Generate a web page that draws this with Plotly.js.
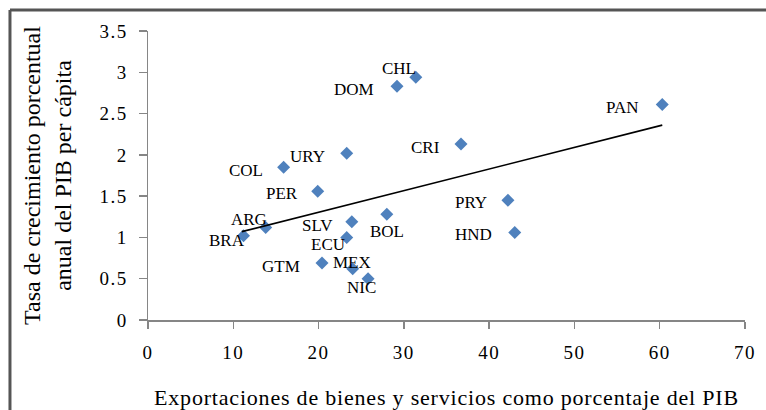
<!DOCTYPE html>
<html>
<head>
<meta charset="utf-8">
<script src="https://cdn.plot.ly/plotly-3.0.1.min.js"></script>
<style>
  html, body { margin: 0; padding: 0; background: #ffffff; }
  #chart { width: 766px; height: 410px; }
  #chart .xtick text, #chart .ytick text { letter-spacing: 1.5px; }
  #chart .g-xtitle text { letter-spacing: 0.8px; }
</style>
</head>
<body>
<div id="chart"></div>
<script>
// ---- Data ----
var countries = ["CHL", "DOM", "PAN", "CRI", "PRY", "HND", "URY", "COL", "PER",
                 "ARG", "BRA", "SLV", "BOL", "ECU", "GTM", "MEX", "NIC"];
var exportsPct = [31.4, 29.2, 60.3, 36.7, 42.2, 43.0, 23.3, 15.9, 19.9,
                  13.8, 11.2, 23.9, 28.0, 23.3, 20.4, 24.0, 25.8];
var growthPct  = [2.94, 2.83, 2.61, 2.13, 1.45, 1.06, 2.02, 1.85, 1.56,
                  1.12, 1.02, 1.19, 1.28, 1.00, 0.69, 0.62, 0.50];
var trendX = [11.0, 60.3];
var trendY = [1.07, 2.36];
var xTicks = [0, 10, 20, 30, 40, 50, 60, 70];
var yTicks = [0, 0.5, 1, 1.5, 2, 2.5, 3, 3.5];

// ---- Label placement (pixel shifts, style only) ----
var labelShift = {
  CHL: [-17, 9], DOM: [-43, -3], PAN: [-40, -3], CRI: [-36, -3], PRY: [-37, -2],
  HND: [-41, -2], URY: [-39, -3], COL: [-38, -3], PER: [-36, -2], ARG: [-17, 8],
  BRA: [-17, -5], SLV: [-34, -4], BOL: [0, -17], ECU: [-19, -7], GTM: [-41, -3],
  MEX: [-1, 6], NIC: [-7, -9]
};

var FONT = "'Liberation Serif', 'Times New Roman', serif";

var annotations = countries.map(function (c, i) {
  return {
    x: exportsPct[i], y: growthPct[i], xref: "x", yref: "y",
    text: c, showarrow: false,
    xanchor: "center", yanchor: "middle",
    xshift: labelShift[c][0], yshift: labelShift[c][1],
    font: { family: FONT, size: 17, color: "#000000" }
  };
});

var traces = [
  {
    type: "scatter", mode: "markers",
    x: exportsPct, y: growthPct, text: countries,
    marker: { symbol: "diamond", size: 10, color: "#4F81BD" },
    showlegend: false, hoverinfo: "text+x+y"
  },
  {
    type: "scatter", mode: "lines",
    x: trendX, y: trendY,
    line: { color: "#000000", width: 1.6 },
    showlegend: false, hoverinfo: "skip"
  }
];

var layout = {
  width: 766, height: 410,
  margin: { l: 148, r: 21, t: 31, b: 90 },
  paper_bgcolor: "#ffffff", plot_bgcolor: "#ffffff",
  font: { family: FONT, size: 18, color: "#000000" },
  showlegend: false,
  xaxis: {
    range: [0, 70], tickmode: "array", tickvals: xTicks,
    showgrid: false, zeroline: false,
    showline: true, linecolor: "#868686", linewidth: 1.5,
    ticks: "outside", ticklen: 7, tickwidth: 1.5, tickcolor: "#868686",
    ticklabelstandoff: 8,
    tickfont: { family: FONT, size: 19, color: "#000000" },
    title: { text: "Exportaciones de bienes y servicios como porcentaje del PIB",
             font: { family: FONT, size: 22, color: "#000000" }, standoff: 28 },
    fixedrange: true
  },
  yaxis: {
    range: [0, 3.5], tickmode: "array", tickvals: yTicks,
    showgrid: false, zeroline: false,
    showline: true, linecolor: "#868686", linewidth: 1.5,
    ticks: "outside", ticklen: 8, tickwidth: 1.5, tickcolor: "#868686",
    ticklabelstandoff: 7,
    tickfont: { family: FONT, size: 19, color: "#000000" },
    title: { text: "Tasa de crecimiento porcentual<br>anual del PIB per cápita",
             font: { family: FONT, size: 24, color: "#000000" }, standoff: 25 },
    fixedrange: true
  },
  annotations: annotations,
  shapes: [
    { type: "line", xref: "paper", yref: "paper",
      x0: -0.2312, x1: 1.2, y0: 1.0727, y1: 1.0727,
      line: { color: "#555555", width: 3 } },
    { type: "line", xref: "paper", yref: "paper",
      x0: -0.2312, x1: -0.2312, y0: 1.0727, y1: -0.5,
      line: { color: "#555555", width: 3 } }
  ]
};

Plotly.newPlot("chart", traces, layout, { displayModeBar: false, staticPlot: true });
</script>
</body>
</html>
